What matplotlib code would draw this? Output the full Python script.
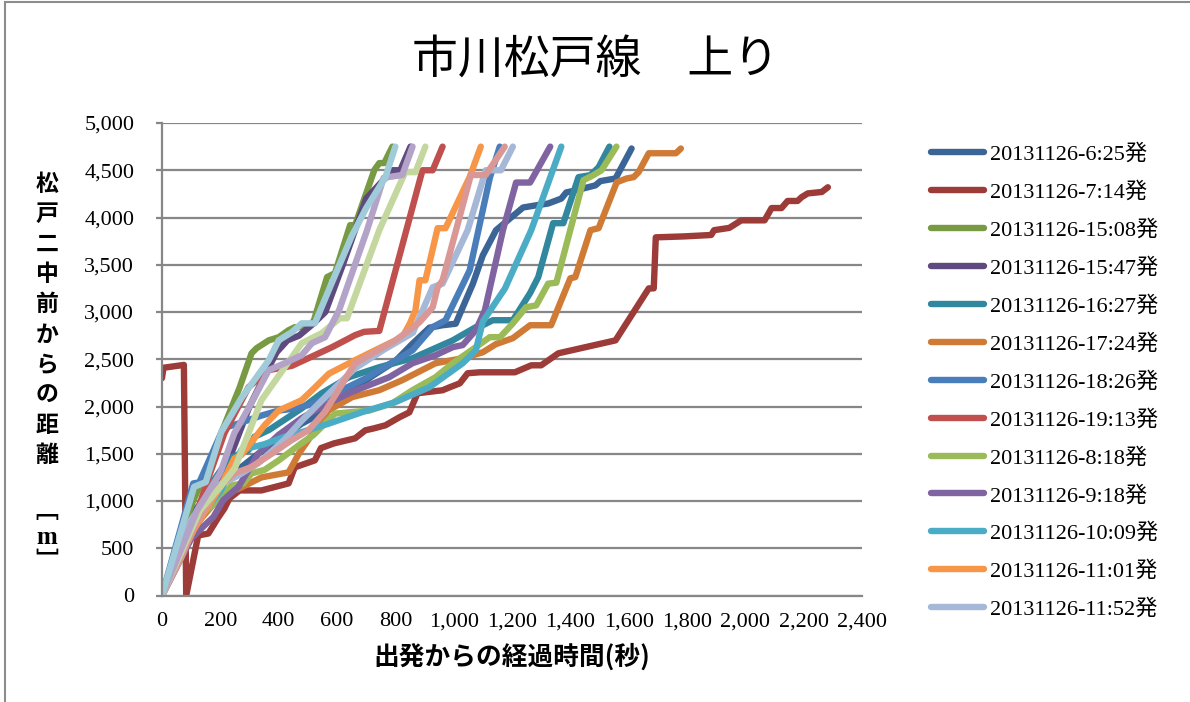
import matplotlib
matplotlib.use("Agg")
from matplotlib import pyplot as plt
from matplotlib.font_manager import FontProperties
from matplotlib.lines import Line2D
from matplotlib.patches import Rectangle

# elapsed seconds / distance from 松戸二中前 (m) for each departure
t_0625 = [0, 110, 200, 260, 330, 400, 479, 560, 640, 720, 800, 859, 917, 962, 1007, 1066, 1100,
          1145, 1197, 1238, 1279, 1324, 1369, 1386, 1417, 1486, 1503, 1555, 1610]
d_0625 = [0, 900, 1180, 1330, 1500, 1640, 1819, 1950, 2150, 2320, 2480, 2665, 2834, 2860, 2876,
          3300, 3600, 3865, 4000, 4106, 4127, 4148, 4200, 4265, 4286, 4340, 4385, 4413, 4730]

t_0714 = [0, 5, 75, 83, 124, 159, 193, 214, 231, 266, 341, 434, 455, 524, 545, 590, 662, 697, 727,
          766, 814, 848, 876, 962, 986, 1021, 1048, 1090, 1210, 1266, 1300, 1359, 1541, 1555, 1669,
          1686, 1693, 1790, 1883, 1893, 1945, 1986, 2066, 2090, 2124, 2145, 2179, 2193, 2214, 2262, 2283]
d_0714 = [2300, 2410, 2440, 0, 635, 656, 826, 921, 1027, 1112, 1112, 1186, 1356, 1430, 1560, 1610,
          1663, 1748, 1769, 1801, 1886, 1938, 2140, 2172, 2203, 2245, 2352, 2362, 2362, 2436, 2436,
          2563, 2690, 2700, 3250, 3250, 3790, 3800, 3815, 3866, 3890, 3970, 3970, 4100, 4100, 4175,
          4175, 4215, 4255, 4270, 4320]

t_1508 = [0, 100, 176, 221, 266, 307, 324, 366, 400, 434, 455, 503, 521, 566, 593, 645, 662, 728,
          745, 762, 790]
d_1508 = [0, 950, 1500, 1856, 2200, 2563, 2616, 2700, 2733, 2807, 2839, 2839, 2913, 3369, 3411,
          3919, 3919, 4502, 4576, 4576, 4750]

t_1547 = [0, 120, 180, 250, 300, 366, 393, 430, 470, 520, 560, 620, 700, 790, 817, 852]
d_1547 = [0, 750, 1050, 1600, 2000, 2414, 2574, 2700, 2750, 2880, 3000, 3500, 4200, 4500, 4500, 4750]

t_1627 = [0, 150, 230, 297, 317, 366, 479, 548, 641, 745, 859, 997, 1076, 1100, 1134, 1203, 1262,
          1290, 1341, 1376, 1428, 1469, 1497, 1534]
d_1627 = [0, 1100, 1450, 1540, 1680, 1750, 1980, 2141, 2310, 2416, 2511, 2700, 2840, 2860, 2913,
          2913, 3200, 3369, 3940, 3940, 4427, 4448, 4532, 4750]

t_1724 = [0, 130, 200, 272, 341, 434, 469, 572, 652, 745, 824, 938, 1031, 1100, 1145, 1203, 1262,
          1334, 1400, 1417, 1469, 1497, 1559, 1593, 1617, 1634, 1669, 1762, 1779]
d_1724 = [0, 800, 1050, 1144, 1250, 1303, 1500, 1961, 2099, 2173, 2279, 2458, 2511, 2574, 2660,
          2723, 2860, 2860, 3357, 3369, 3866, 3887, 4373, 4413, 4427, 4480, 4680, 4680, 4730]

t_1826 = [0, 107, 128, 210, 262, 341, 400, 455, 520, 600, 700, 780, 859, 928, 972, 1055, 1124, 1158]
d_1826 = [0, 1186, 1197, 1770, 1820, 1904, 1957, 1978, 2030, 2150, 2300, 2450, 2595, 2840, 2913,
          3442, 4420, 4750]

t_1913 = [0, 100, 160, 214, 297, 366, 445, 524, 583, 628, 662, 693, 745, 893, 928, 962]
d_1913 = [0, 700, 1250, 1718, 2205, 2385, 2430, 2543, 2628, 2700, 2755, 2790, 2800, 4500, 4500, 4750]

t_0818 = [0, 130, 200, 238, 279, 307, 352, 400, 479, 520, 593, 710, 790, 859, 938, 997, 1076, 1124,
          1159, 1203, 1248, 1283, 1324, 1352, 1445, 1479, 1507, 1558]
d_0818 = [0, 850, 1020, 1165, 1186, 1292, 1330, 1430, 1613, 1700, 1925, 1957, 2035, 2173, 2310,
          2458, 2628, 2734, 2734, 2880, 3050, 3070, 3300, 3310, 4395, 4448, 4500, 4750]

t_0918 = [0, 100, 145, 176, 210, 262, 330, 400, 479, 538, 641, 710, 779, 859, 938, 997, 1031, 1076,
          1107, 1169, 1214, 1262, 1331]
d_0918 = [0, 600, 740, 830, 1010, 1150, 1500, 1700, 1877, 1983, 2141, 2226, 2310, 2458, 2543, 2628,
          2650, 2807, 3018, 3866, 4370, 4370, 4750]

t_1009 = [0, 120, 200, 272, 350, 421, 479, 572, 686, 800, 917, 1031, 1076, 1100, 1176, 1266, 1369]
d_1009 = [0, 800, 1100, 1540, 1600, 1680, 1729, 1819, 1940, 2046, 2205, 2458, 2595, 2900, 3250,
          3866, 4750]

t_1101 = [0, 110, 200, 248, 272, 352, 400, 479, 524, 572, 662, 745, 824, 850, 869, 883, 903, 945,
          972, 1055, 1093]
d_1101 = [0, 700, 1150, 1450, 1486, 1803, 1957, 2067, 2200, 2347, 2490, 2617, 2734, 2880, 3018,
          3336, 3336, 3887, 3887, 4430, 4750]

t_1152 = [0, 100, 180, 250, 330, 420, 479, 560, 660, 760, 860, 928, 962, 1048, 1110, 1162, 1203]
d_1152 = [0, 800, 1150, 1250, 1400, 1650, 1850, 2100, 2400, 2600, 2780, 3262, 3300, 3866, 4500,
          4500, 4750]

# later departures (not listed in the legend)
t_x1 = [0, 66, 107, 193, 248, 307, 376, 445, 503, 560, 662, 800, 834, 883, 928, 945, 962, 1059,
        1110, 1175]
d_x1 = [0, 400, 710, 1144, 1292, 1360, 1500, 1645, 1750, 1950, 2458, 2700, 2776, 2892, 3050, 3262,
        3336, 4450, 4450, 4750]

t_x2 = [0, 130, 200, 250, 341, 421, 479, 548, 610, 634, 745, 834, 869, 903]
d_x2 = [0, 900, 1150, 1350, 2067, 2416, 2670, 2776, 2934, 2934, 3866, 4480, 4480, 4750]

t_x3 = [0, 120, 200, 248, 300, 366, 421, 479, 514, 559, 607, 703, 760, 824, 859]
d_x3 = [0, 900, 1300, 1718, 2000, 2385, 2458, 2543, 2670, 2733, 3018, 3866, 4420, 4450, 4750]

t_x4 = [0, 110, 150, 203, 272, 366, 400, 445, 479, 524, 583, 650, 700, 766, 800]
d_x4 = [0, 1150, 1200, 1729, 2088, 2490, 2700, 2786, 2880, 2880, 3315, 3800, 4100, 4427, 4750]

labels = ["20131126-6:25発", "20131126-7:14発", "20131126-15:08発", "20131126-15:47発",
          "20131126-16:27発", "20131126-17:24発", "20131126-18:26発", "20131126-19:13発",
          "20131126-8:18発", "20131126-9:18発", "20131126-10:09発", "20131126-11:01発",
          "20131126-11:52発"]

series = [(t_0625, d_0625), (t_0714, d_0714), (t_1508, d_1508), (t_1547, d_1547),
          (t_1627, d_1627), (t_1724, d_1724), (t_1826, d_1826), (t_1913, d_1913),
          (t_0818, d_0818), (t_0918, d_0918), (t_1009, d_1009), (t_1101, d_1101),
          (t_1152, d_1152)]
extra = [(t_x1, d_x1), (t_x2, d_x2), (t_x3, d_x3), (t_x4, d_x4)]

colors = ['#3B6596', '#9C3B38', '#779A42', '#5E4A7E', '#31879D', '#D07B35', '#4A7EBB',
          '#C0504D', '#9BBB59', '#8064A2', '#4BACC6', '#F79646', '#A6B8D7']
extra_colors = ['#D99795', '#C4D79E', '#B3A3C8', '#A0CCDA']

y_ticks = list(range(0, 5001, 500))
x_ticks = list(range(0, 2401, 200))

serif = 'Liberation Serif'
cjk = 'Noto Sans CJK JP'

fig = plt.figure(figsize=(11.9, 7.02), dpi=100)
ax = fig.add_axes([162 / 1190, 1 - 595.5 / 702, 700 / 1190, (595.5 - 123) / 702])

line_kw = dict(linewidth=4.6, solid_capstyle='round', solid_joinstyle='round')
handles = []
for (t, d), c in zip(series, colors):
    h, = ax.plot(t, d, color=c, **line_kw)
    handles.append(h)
for (t, d), c in zip(extra, extra_colors):
    ax.plot(t, d, color=c, **line_kw)

grid_c = '#878787'
ax.set_xlim(0, 2400)
ax.set_ylim(0, 5000)
ax.set_yticks(y_ticks)
ax.set_xticks(x_ticks)
ax.set_yticklabels([f"{v:,}" for v in y_ticks], fontfamily=serif, fontsize=16)
ax.set_xticklabels([f"{v:,}" for v in x_ticks], fontfamily=serif, fontsize=16)
ax.yaxis.grid(True, color=grid_c, linewidth=1.6)
ax.set_axisbelow(True)
for side in ['top', 'right']:
    ax.spines[side].set_visible(False)
for side in ['left', 'bottom']:
    ax.spines[side].set_color(grid_c)
    ax.spines[side].set_linewidth(1.6)
ax.tick_params(axis='y', length=4, width=1.6, color=grid_c, pad=16)
ax.tick_params(axis='x', length=0, pad=12)

fig.text(0.5, 1 - 60 / 702, "市川松戸線　上り", ha='center', va='center',
         fontfamily=cjk, fontsize=33)
fig.text(512 / 1190, 1 - 657 / 702, "出発からの経過時間(秒)", ha='center', va='center',
         fontfamily=cjk, fontsize=18.5, fontweight='bold')

# vertical y label, one character per row
ylab = ["松", "戸", "二", "中", "前", "か", "ら", "の", "距", "離"]
for i, ch in enumerate(ylab):
    fig.text(47 / 1190, 1 - (184 + i * 30.2) / 702, ch, ha='center', va='center',
             fontfamily=cjk, fontsize=16.5, fontweight='bold')
fig.text(47 / 1190, 1 - 512 / 702, "﹇", ha='center', va='center', fontfamily=cjk,
         fontsize=16.5, fontweight='bold')
fig.text(47 / 1190, 1 - 537 / 702, "m", ha='center', va='center', fontfamily=serif,
         fontsize=18, fontweight='bold')
fig.text(47 / 1190, 1 - 561 / 702, "﹈", ha='center', va='center', fontfamily=cjk,
         fontsize=16.5, fontweight='bold')

leg_handles = [Line2D([], [], color=c, linewidth=4.6, solid_capstyle='round') for c in colors]
fig.legend(leg_handles, labels, loc='upper left', bbox_to_anchor=(931 / 1190, 1 - 144 / 702),
           frameon=False, prop=FontProperties(family=[serif, cjk], size=16),
           handlelength=2.4, handletextpad=0.25, labelspacing=0.78, borderpad=0,
           borderaxespad=0)

# chart frame
fig.patches.append(Rectangle((5 / 1190, -0.1), 1.2, 1.1 - 2 / 702, transform=fig.transFigure,
                             fill=False, edgecolor='#8C8C8C', linewidth=1.5))

fig.savefig("out.png", dpi=100)
